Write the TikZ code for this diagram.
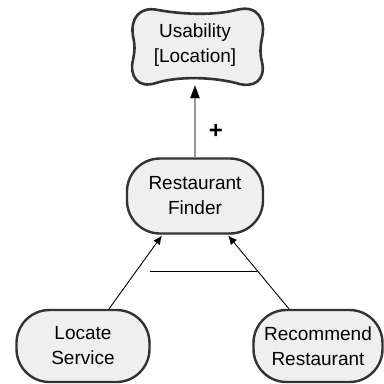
\documentclass[tikz,border=0pt]{standalone}
\usepackage{fontspec}
\setmainfont{Liberation Sans}
\usetikzlibrary{arrows.meta,calc}
\definecolor{edgegray}{HTML}{333333}
\definecolor{boxfill}{HTML}{EFEFEF}
\definecolor{linkgray}{HTML}{999999}
\begin{document}
\begin{tikzpicture}[x=1pt,y=-1pt,
  goalbox/.style={draw=edgegray, line width=2.4pt, fill=boxfill,
    rounded corners=33pt, align=center, inner sep=0pt,
    font=\fontsize{19}{25}\selectfont},
  label text/.style={align=center, inner sep=0pt,
    font=\fontsize{19}{25}\selectfont},
  link/.style={draw=black, line width=0.9pt,
    -{Latex[length=9pt,width=8pt]}},
]
\useasboundingbox (0,0) rectangle (384,384);

% softgoal outline
\draw[edgegray, line width=2.6pt, fill=boxfill]
  (158,10) .. controls (180,14) and (212,16) .. (236,10)
  .. controls (258,4) and (266,20) .. (262,38)
  .. controls (260,48) and (260,55) .. (262,62)
  .. controls (266,80) and (254,89) .. (236,83)
  .. controls (212,77) and (178,76) .. (156,83)
  .. controls (138,89) and (129,76) .. (133,60)
  .. controls (135,50) and (135,45) .. (133,36)
  .. controls (130,18) and (140,6) .. (158,10) -- cycle;
\node[label text] (us) at (195,45.5) {Usability\\{[}Location{]}};
\coordinate (usb) at (195,86);

% tasks
\node[goalbox, minimum width=136pt, minimum height=75pt] (rf) at (195,196) {Restaurant\\Finder};
\node[goalbox, minimum width=133pt, minimum height=72pt] (ls) at (83,346) {Locate\\Service};
\node[goalbox, minimum width=129pt, minimum height=72pt] (rr) at (318,346) {Recommend\\Restaurant};

% contribution link
\draw[linkgray, line width=1.4pt] (rf.north) -- ($(usb)+(0,8)$);
\draw[fill=black] (usb) -- ++(-4.5,12) -- ++(9,0) -- cycle;
\node[font=\bfseries\fontsize{24}{24}\selectfont] (plus) at (216,131) {+};

% decomposition links
\draw[link, shorten >=1pt] (ls.55) -- (rf.230);
\draw[link, shorten >=1pt] (rr.128) -- (rf.310);
\coordinate (barL) at (150,271);
\coordinate (barR) at (257,271);
\draw[black, line width=0.9pt] (barL) -- (barR);
\end{tikzpicture}
\end{document}
